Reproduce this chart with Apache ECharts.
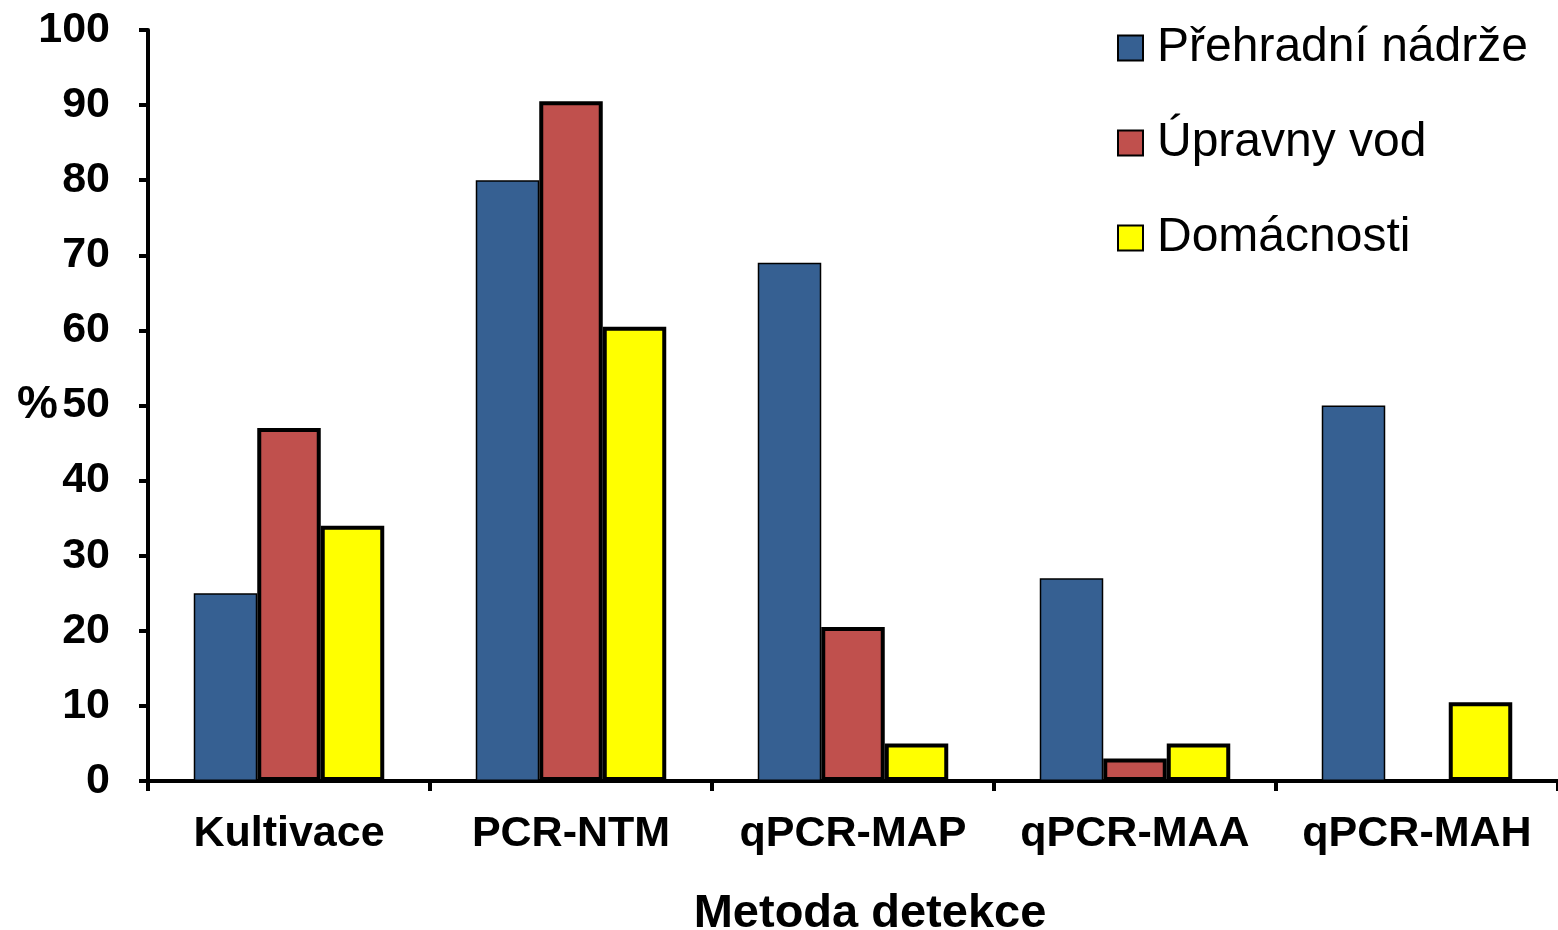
<!DOCTYPE html>
<html>
<head>
<meta charset="utf-8">
<script src="https://cdn.jsdelivr.net/npm/echarts@6/dist/echarts.min.js"></script>
<style>
  html, body { margin: 0; padding: 0; background: #fff; }
  #chart { width: 1558px; height: 930px; }
</style>
</head>
<body>
<div id="chart"></div>
<script>
// Detection methods and share of positive samples (%) per sampling site type
const categories = ['Kultivace', 'PCR-NTM', 'qPCR-MAP', 'qPCR-MAA', 'qPCR-MAH'];
const seriesNames = ['Přehradní nádrže', 'Úpravny vod', 'Domácnosti'];
const prehradniNadrze = [25, 80, 69, 27, 50];
const upravnyVod = [47, 90.5, 20.5, 3, 0];
const domacnosti = [34, 60.5, 5, 5, 10.5];
const yTicks = { min: 0, max: 100, interval: 10 };

const FONT = '"Liberation Sans", Arial, sans-serif';

const chart = echarts.init(document.getElementById('chart'), null, { renderer: 'canvas' });

function barSeries(name, data, color, borderWidth) {
  return {
    name: name,
    type: 'bar',
    data: data,
    barWidth: 63.5,
    barGap: '0%',
    itemStyle: { color: color, borderColor: '#000', borderWidth: borderWidth },
    emphasis: { disabled: true }
  };
}

chart.setOption({
  animation: false,
  backgroundColor: '#fff',
  textStyle: { fontFamily: FONT },
  grid: { left: 148, right: 0, top: 30, bottom: 149, containLabel: false, outerBoundsMode: 'none' },
  legend: {
    orient: 'vertical',
    left: 1117,
    top: 23,
    padding: 0,
    icon: 'rect',
    itemWidth: 25,
    itemHeight: 25,
    itemGap: 45,
    textStyle: { fontFamily: FONT, fontSize: 48, color: '#000', lineHeight: 50, padding: [0, 0, 0, 9] },
    data: seriesNames
  },
  xAxis: {
    type: 'category',
    data: categories,
    name: 'Metoda detekce',
    nameLocation: 'middle',
    nameGap: 110,
    nameMoveOverlap: false,
    nameTextStyle: { fontFamily: FONT, fontSize: 47, fontWeight: 'bold', color: '#000', padding: [0, 0, 0, 34] },
    axisLine: { lineStyle: { color: '#000', width: 4 } },
    axisTick: { show: true, interval: 0, length: 10, lineStyle: { color: '#000', width: 4 } },
    axisLabel: { interval: 0, fontFamily: FONT, fontSize: 43, fontWeight: 'bold', color: '#000', margin: 32 }
  },
  yAxis: {
    type: 'value',
    min: yTicks.min,
    max: yTicks.max,
    interval: yTicks.interval,
    name: '%',
    nameLocation: 'middle',
    nameRotate: 0,
    nameGap: 90,
    nameMoveOverlap: false,
    nameTextStyle: { fontFamily: FONT, fontSize: 46, fontWeight: 'bold', color: '#000' },
    axisLine: { show: true, lineStyle: { color: '#000', width: 4 } },
    axisTick: { show: true, length: 9, lineStyle: { color: '#000', width: 4 } },
    axisLabel: { fontFamily: FONT, fontSize: 43, fontWeight: 'bold', color: '#000', margin: 38 },
    splitLine: { show: false }
  },
  series: [
    barSeries(seriesNames[0], prehradniNadrze, '#366092', 1.5),
    barSeries(seriesNames[1], upravnyVod, '#C0504D', 4),
    barSeries(seriesNames[2], domacnosti, '#FFFF00', 4)
  ]
});
</script>
</body>
</html>
